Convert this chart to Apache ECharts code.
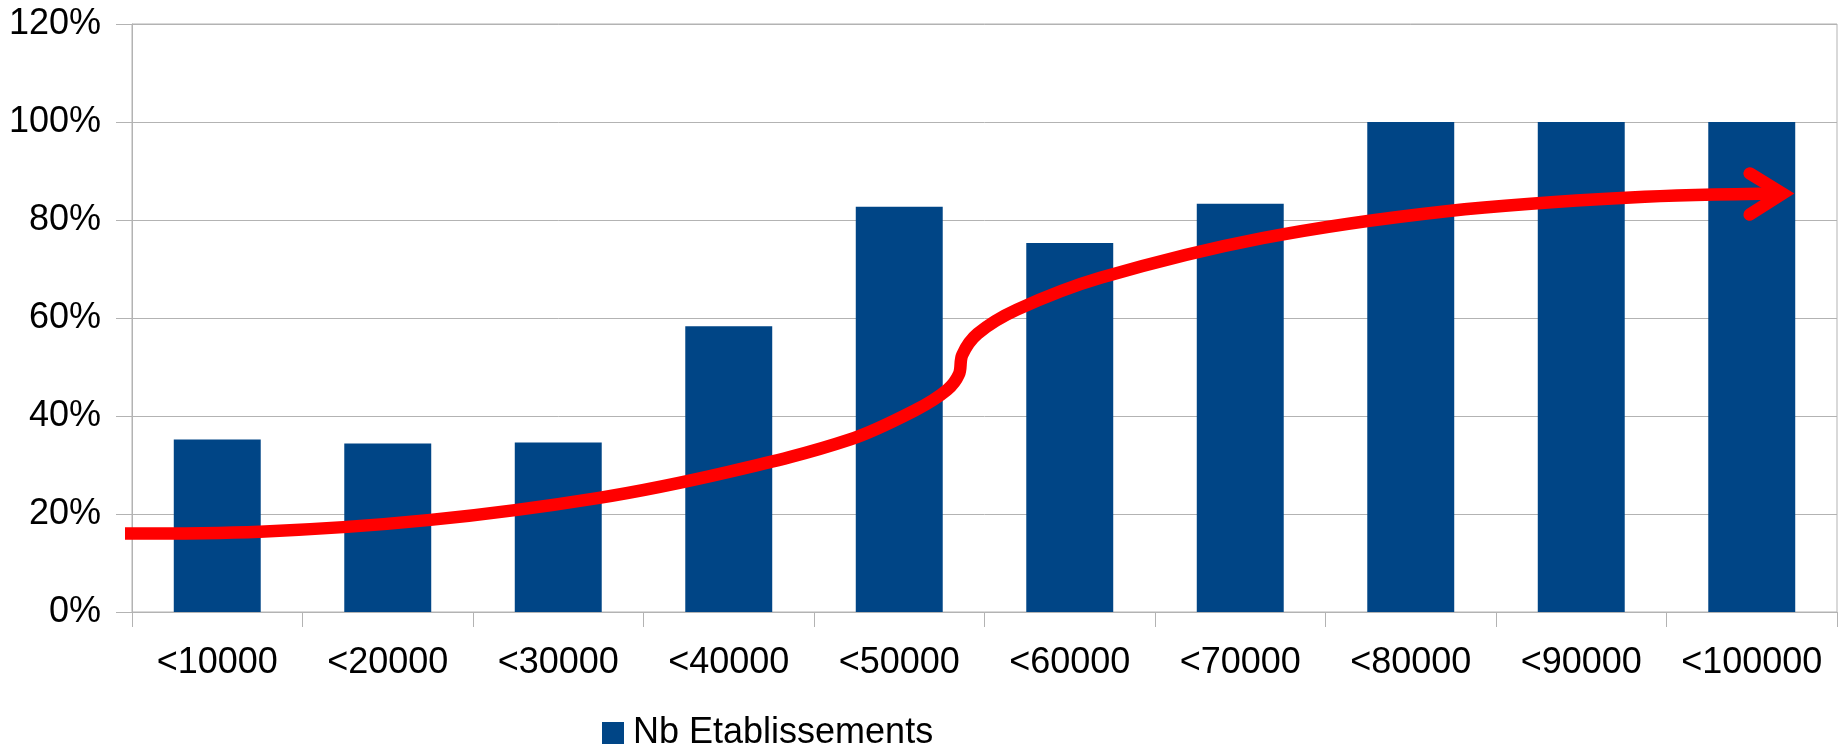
<!DOCTYPE html>
<html>
<head>
<meta charset="utf-8">
<script src="https://cdn.jsdelivr.net/npm/echarts@6/dist/echarts.min.js"></script>
<style>
html,body{margin:0;padding:0;background:#fff;}
#chart{width:1840px;height:745px;}
</style>
</head>
<body>
<div id="chart"></div>
<script>
// Categories and bar values (percent)
const categories = ['<10000','<20000','<30000','<40000','<50000','<60000','<70000','<80000','<90000','<100000'];
const barValues = [35.2, 34.4, 34.6, 58.3, 82.7, 75.3, 83.3, 100, 100, 100];
const yTicks = [0, 20, 40, 60, 80, 100, 120];

// Hand-drawn red trend arrow (x in category units, y in percent)
const curveX = [-0.056, 0.75, 1.75, 2.74, 3.50, 4.21, 4.60, 4.78, 4.85, 4.87, 4.96, 5.19, 5.68, 6.63, 7.71, 8.79, 9.681];
const curveY = [16.0, 16.4, 18.8, 23.3, 28.6, 35.2, 41.3, 45.3, 48.5, 52.5, 56.8, 61.7, 68.2, 76.3, 81.8, 84.6, 85.4];
const arrowX = [9.488, 9.681, 9.488];
const arrowY = [89.5, 85.4, 81.1];

const chart = echarts.init(document.getElementById('chart'));
const font = 'Liberation Sans, Arial, sans-serif';
const gridColor = '#b3b3b3';

chart.setOption({
  backgroundColor: '#ffffff',
  animation: false,
  grid: {left: 132, right: 3, top: 24, bottom: 133, show: true, borderColor: gridColor, borderWidth: 1},
  legend: {
    data: ['Nb Etablissements'],
    left: 597, top: 710,
    icon: 'rect', itemWidth: 22, itemHeight: 22,
    textStyle: {fontFamily: font, fontSize: 36, color: '#000', lineHeight: 36, padding: [0,0,0,4]}
  },
  xAxis: [
    {
      type: 'category', data: categories, boundaryGap: true,
      axisLine: {lineStyle: {color: gridColor, width: 1}},
      axisTick: {show: true, length: 15, lineStyle: {color: gridColor}},
      axisLabel: {fontFamily: font, fontSize: 36, color: '#000', margin: 33, interval: 0}
    },
    {type: 'value', min: 0, max: 10, show: false}
  ],
  yAxis: {
    type: 'value', min: yTicks[0], max: yTicks[yTicks.length-1], interval: 20,
    axisLine: {show: true, lineStyle: {color: gridColor, width: 1}},
    axisTick: {show: true, length: 16, lineStyle: {color: gridColor}},
    splitLine: {show: true, lineStyle: {color: gridColor, width: 1}},
    axisLabel: {fontFamily: font, fontSize: 36, color: '#000', margin: 31, formatter: '{value}%'}
  },
  series: [
    {
      name: 'Nb Etablissements', type: 'bar', data: barValues,
      barWidth: '51%', itemStyle: {color: '#004586'}
    },
    {
      name: 'trend', type: 'line', xAxisIndex: 1, clip: false,
      data: curveX.map((x, i) => [x, curveY[i]]),
      smooth: 0.35, showSymbol: false, symbol: 'none',
      lineStyle: {color: '#ff0000', width: 12.5, cap: 'butt', join: 'round'},
      z: 5
    },
    {
      name: 'arrow', type: 'line', xAxisIndex: 1, clip: false,
      data: arrowX.map((x, i) => [x, arrowY[i]]),
      smooth: false, showSymbol: false, symbol: 'none',
      lineStyle: {color: '#ff0000', width: 12.5, cap: 'round', join: 'miter'},
      z: 5
    }
  ]
});
</script>
</body>
</html>
